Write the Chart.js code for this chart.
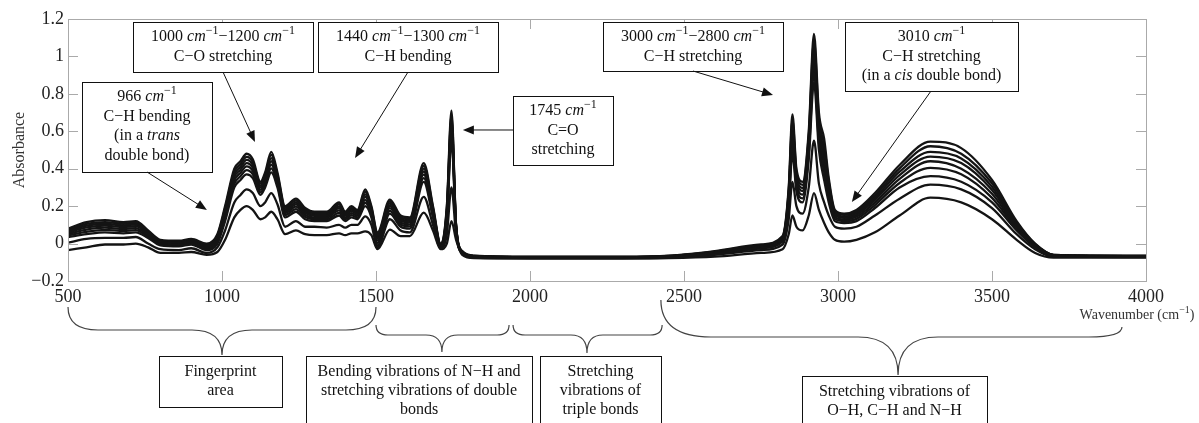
<!DOCTYPE html>
<html>
<head>
<meta charset="utf-8">
<script src="https://cdn.jsdelivr.net/npm/chart.js@4"></script>
<style>
  html, body { margin: 0; padding: 0; background: #fff; }
  canvas { display: block; }
</style>
</head>
<body>
<canvas id="spectra" width="1199" height="423"></canvas>
<script>
// Wavenumber grid (cm-1) shared by all spectra
const wavenumbers = [500, 560, 620, 680, 720, 760, 800, 860, 900, 950, 985, 1010, 1040, 1060, 1080, 1100, 1125, 1140, 1160, 1180,
  1205, 1240, 1270, 1300, 1340, 1380, 1400, 1420, 1440, 1465, 1485, 1505, 1545, 1580, 1610, 1655, 1685, 1710, 1730, 1745,
  1760, 1780, 1820, 2000, 2300, 2450, 2600, 2750, 2820, 2840, 2852, 2865, 2885, 2905, 2922, 2938, 2955, 2970, 2990, 3020,
  3060, 3120, 3200, 3300, 3400, 3500, 3580, 3640, 3700, 4000];

// Absorbance of each sample, lowest first
const spectrum1 = [-0.035, -0.02, -0.005, -0.005, 0, -0.02, -0.05, -0.05, -0.045, -0.06, -0.045, 0.02, 0.14, 0.18, 0.2, 0.18, 0.13, 0.14, 0.17, 0.13,
  0.05, 0.07, 0.05, 0.045, 0.045, 0.055, 0.045, 0.055, 0.055, 0.065, 0.045, -0.03, 0.075, 0.04, 0.04, 0.165, 0.07, -0.03, 0, 0.12,
  0.02, -0.06, -0.078, -0.08, -0.08, -0.078, -0.07, -0.05, -0.03, 0.05, 0.15, 0.09, 0.07, 0.15, 0.27, 0.18, 0.11, 0.06, 0.02, 0.01,
  0.02, 0.06, 0.15, 0.245, 0.22, 0.13, 0.02, -0.05, -0.075, -0.075];
const spectrum2 = [0.005, 0.025, 0.03, 0.03, 0.035, 0, -0.03, -0.035, -0.025, -0.05, -0.02, 0.07, 0.22, 0.26, 0.29, 0.27, 0.2, 0.22, 0.27, 0.21,
  0.09, 0.12, 0.09, 0.09, 0.085, 0.1, 0.085, 0.1, 0.1, 0.145, 0.1, -0.02, 0.13, 0.07, 0.06, 0.25, 0.1, -0.025, 0.05, 0.3,
  0.05, -0.055, -0.075, -0.078, -0.078, -0.075, -0.06, -0.035, -0.005, 0.13, 0.33, 0.2, 0.16, 0.3, 0.55, 0.32, 0.22, 0.15, 0.09, 0.08,
  0.09, 0.15, 0.24, 0.315, 0.29, 0.19, 0.05, -0.03, -0.07, -0.072];
const spectrum3 = [0.035, 0.05, 0.06, 0.055, 0.06, 0.03, -0.01, -0.015, -0.005, -0.035, 0, 0.12, 0.3, 0.34, 0.37, 0.35, 0.26, 0.3, 0.38, 0.3,
  0.14, 0.17, 0.13, 0.12, 0.12, 0.15, 0.12, 0.14, 0.13, 0.2, 0.14, -0.01, 0.16, 0.09, 0.08, 0.33, 0.14, -0.02, 0.12, 0.55,
  0.08, -0.05, -0.07, -0.075, -0.075, -0.07, -0.055, -0.025, 0.01, 0.2, 0.48, 0.28, 0.22, 0.45, 0.86, 0.5, 0.34, 0.22, 0.12, 0.11,
  0.12, 0.19, 0.3, 0.36, 0.33, 0.22, 0.07, -0.02, -0.065, -0.07];
const spectrum4 = [0.044, 0.063, 0.073, 0.067, 0.072, 0.038, -0.004, -0.009, 0.001, -0.028, 0.01, 0.136, 0.32, 0.36, 0.392, 0.37, 0.274, 0.316, 0.402, 0.316,
  0.152, 0.184, 0.142, 0.13, 0.13, 0.164, 0.13, 0.152, 0.14, 0.218, 0.152, 0.004, 0.175, 0.102, 0.092, 0.35, 0.152, -0.016, 0.136, 0.582,
  0.084, -0.048, -0.069, -0.074, -0.074, -0.069, -0.052, -0.021, 0.016, 0.22, 0.522, 0.304, 0.242, 0.48, 0.912, 0.54, 0.384, 0.246, 0.132, 0.12,
  0.132, 0.206, 0.324, 0.405, 0.37, 0.244, 0.08, -0.016, -0.064, -0.069];
const spectrum5 = [0.052, 0.075, 0.085, 0.078, 0.083, 0.045, 0.001, -0.004, 0.006, -0.022, 0.019, 0.15, 0.338, 0.378, 0.412, 0.388, 0.287, 0.33, 0.422, 0.33,
  0.163, 0.197, 0.153, 0.139, 0.139, 0.177, 0.139, 0.163, 0.149, 0.234, 0.163, 0.017, 0.189, 0.113, 0.103, 0.368, 0.163, -0.012, 0.15, 0.611,
  0.088, -0.046, -0.068, -0.073, -0.073, -0.068, -0.049, -0.017, 0.021, 0.238, 0.56, 0.326, 0.262, 0.507, 0.959, 0.576, 0.424, 0.269, 0.143, 0.129,
  0.143, 0.22, 0.346, 0.44, 0.4, 0.266, 0.089, -0.012, -0.063, -0.068];
const spectrum6 = [0.06, 0.086, 0.096, 0.088, 0.093, 0.052, 0.007, 0.002, 0.012, -0.016, 0.028, 0.164, 0.355, 0.395, 0.43, 0.405, 0.299, 0.344, 0.44, 0.344,
  0.173, 0.209, 0.163, 0.148, 0.148, 0.189, 0.148, 0.173, 0.158, 0.25, 0.173, 0.029, 0.201, 0.123, 0.113, 0.385, 0.173, -0.009, 0.164, 0.638,
  0.091, -0.045, -0.067, -0.072, -0.072, -0.067, -0.047, -0.014, 0.027, 0.255, 0.596, 0.346, 0.281, 0.533, 1.003, 0.61, 0.461, 0.292, 0.153, 0.138,
  0.153, 0.234, 0.366, 0.465, 0.43, 0.286, 0.098, -0.009, -0.062, -0.067];
const spectrum7 = [0.067, 0.096, 0.106, 0.097, 0.102, 0.058, 0.011, 0.006, 0.016, -0.011, 0.035, 0.176, 0.37, 0.41, 0.447, 0.42, 0.309, 0.356, 0.457, 0.356,
  0.182, 0.219, 0.172, 0.155, 0.155, 0.199, 0.155, 0.182, 0.165, 0.263, 0.182, 0.039, 0.213, 0.132, 0.122, 0.4, 0.182, -0.006, 0.176, 0.662,
  0.094, -0.043, -0.067, -0.072, -0.072, -0.067, -0.045, -0.011, 0.031, 0.27, 0.627, 0.364, 0.297, 0.555, 1.042, 0.64, 0.494, 0.311, 0.162, 0.145,
  0.162, 0.246, 0.384, 0.49, 0.455, 0.304, 0.105, -0.006, -0.062, -0.067];
const spectrum8 = [0.073, 0.105, 0.115, 0.106, 0.111, 0.064, 0.016, 0.011, 0.021, -0.005, 0.043, 0.188, 0.385, 0.425, 0.463, 0.435, 0.32, 0.368, 0.474, 0.368,
  0.191, 0.23, 0.181, 0.163, 0.163, 0.21, 0.163, 0.191, 0.173, 0.277, 0.191, 0.05, 0.224, 0.141, 0.131, 0.415, 0.191, -0.003, 0.188, 0.686,
  0.097, -0.042, -0.066, -0.071, -0.071, -0.066, -0.043, -0.008, 0.036, 0.285, 0.659, 0.382, 0.314, 0.578, 1.081, 0.67, 0.527, 0.331, 0.171, 0.153,
  0.171, 0.258, 0.402, 0.52, 0.48, 0.322, 0.113, -0.003, -0.061, -0.066];
const spectrum9 = [0.08, 0.115, 0.125, 0.115, 0.12, 0.07, 0.02, 0.015, 0.025, 0, 0.05, 0.2, 0.4, 0.44, 0.48, 0.45, 0.33, 0.38, 0.49, 0.38,
  0.2, 0.24, 0.19, 0.17, 0.17, 0.22, 0.17, 0.2, 0.18, 0.29, 0.2, 0.06, 0.235, 0.15, 0.14, 0.43, 0.2, 0, 0.2, 0.71,
  0.1, -0.04, -0.065, -0.07, -0.07, -0.065, -0.04, -0.005, 0.04, 0.3, 0.69, 0.4, 0.33, 0.6, 1.12, 0.7, 0.56, 0.35, 0.18, 0.16,
  0.18, 0.27, 0.42, 0.545, 0.51, 0.34, 0.12, 0, -0.06, -0.065];

const spectra = [spectrum1, spectrum2, spectrum3, spectrum4, spectrum5, spectrum6, spectrum7, spectrum8, spectrum9];

// Axis ticks
const xTicks = [500, 1000, 1500, 2000, 2500, 3000, 3500, 4000];
const yTicks = [-0.2, 0, 0.2, 0.4, 0.6, 0.8, 1, 1.2];

const SERIF = '"Liberation Serif", "Times New Roman", serif';

// Peak callouts: box in canvas px, arrow tail in px, arrow tip in data units
const callouts = [
  { lines: ['966 _cm_^−1^', 'C−H bending', '(in a _trans_', 'double bond)'], box: [82, 82, 212, 172], from: [147, 172], tip: [951, 0.18] },
  { lines: ['1000 _cm_^−1^−1200 _cm_^−1^', 'C−O stretching'], box: [133, 22, 313, 72], from: [223, 72], tip: [1107, 0.543] },
  { lines: ['1440 _cm_^−1^−1300 _cm_^−1^', 'C−H bending'], box: [318, 22, 498, 72], from: [408, 72], tip: [1432, 0.457] },
  { lines: ['1745 _cm_^−1^', 'C=O', 'stretching'], box: [513, 96, 613, 165], from: [513, 130], tip: [1782, 0.607] },
  { lines: ['3000 _cm_^−1^−2800 _cm_^−1^', 'C−H stretching'], box: [603, 22, 783, 71], from: [693, 71], tip: [2789, 0.794] },
  { lines: ['3010 _cm_^−1^', 'C−H stretching', '(in a _cis_ double bond)'], box: [845, 22, 1018, 91], from: [931, 91], tip: [3045, 0.222] }
];

// Spectral regions under the axis: wavenumber span, cusp, brace levels in px
const regions = [
  { lines: ['Fingerprint', 'area'], from: 500, to: 1500, cusp: 1000, top: 307, topR: 307, mid: 330, bot: 355, r1: 30, r2: 30, box: [159, 356, 282, 407] },
  { lines: ['Bending vibrations of N−H and', 'stretching vibrations of double', 'bonds'], from: 1500, to: 1932, cusp: 1714, top: 325, topR: 325, mid: 335, bot: 352, r1: 12, r2: 16, box: [306, 356, 532, 440] },
  { lines: ['Stretching', 'vibrations of', 'triple bonds'], from: 1945, to: 2429, cusp: 2185, top: 325, topR: 325, mid: 335, bot: 353, r1: 12, r2: 16, box: [540, 356, 661, 440] },
  { lines: ['Stretching vibrations of', 'O−H, C−H and N−H'], from: 2425, to: 3922, cusp: 3195, top: 300, topR: 327, mid: 337, bot: 375, r1: 50, r2: 40, box: [802, 376, 987, 440] }
];

function richSegments(str, size) {
  return str.split(/(_[^_]+_|\^[^^]+\^)/).filter(Boolean).map(p => {
    if (p[0] === '_') return { t: p.slice(1, -1), font: `italic ${size}px ${SERIF}`, dy: 0 };
    if (p[0] === '^') return { t: p.slice(1, -1), font: `${Math.round(size * 0.72)}px ${SERIF}`, dy: -size * 0.36 };
    return { t: p, font: `${size}px ${SERIF}`, dy: 0 };
  });
}

function drawRich(ctx, str, x, y, size, align) {
  const segs = richSegments(str, size);
  let w = 0;
  segs.forEach(s => { ctx.font = s.font; s.w = ctx.measureText(s.t).width; w += s.w; });
  let cx = align === 'left' ? x : x - w / 2;
  ctx.textAlign = 'left';
  ctx.textBaseline = 'middle';
  segs.forEach(s => { ctx.font = s.font; ctx.fillText(s.t, cx, y + s.dy); cx += s.w; });
}

function drawBox(ctx, box, lines, first, step) {
  const [x0, y0, x1, y1] = box;
  ctx.fillStyle = '#fff';
  ctx.fillRect(x0, y0, x1 - x0, y1 - y0);
  ctx.strokeStyle = '#111';
  ctx.lineWidth = 1;
  ctx.strokeRect(x0 + 0.5, y0 + 0.5, x1 - x0, y1 - y0);
  ctx.fillStyle = '#111';
  lines.forEach((l, i) => drawRich(ctx, l, (x0 + x1) / 2, y0 + first + i * step, 16));
}

function drawArrow(ctx, x0, y0, x1, y1) {
  const a = Math.atan2(y1 - y0, x1 - x0);
  const len = 11, half = 4.5;
  ctx.strokeStyle = '#111';
  ctx.lineWidth = 1;
  ctx.beginPath();
  ctx.moveTo(x0, y0);
  ctx.lineTo(x1 - Math.cos(a) * len * 0.8, y1 - Math.sin(a) * len * 0.8);
  ctx.stroke();
  ctx.fillStyle = '#111';
  ctx.beginPath();
  ctx.moveTo(x1, y1);
  ctx.lineTo(x1 - Math.cos(a) * len - Math.sin(a) * half, y1 - Math.sin(a) * len + Math.cos(a) * half);
  ctx.lineTo(x1 - Math.cos(a) * len + Math.sin(a) * half, y1 - Math.sin(a) * len - Math.cos(a) * half);
  ctx.closePath();
  ctx.fill();
}

function drawBrace(ctx, xa, xc, xb, g) {
  ctx.beginPath();
  ctx.moveTo(xa, g.top);
  ctx.quadraticCurveTo(xa, g.mid, xa + g.r1, g.mid);
  ctx.lineTo(xc - g.r2, g.mid);
  ctx.quadraticCurveTo(xc, g.mid, xc, g.bot);
  ctx.quadraticCurveTo(xc, g.mid, xc + g.r2, g.mid);
  const rR = Math.min(g.r1, (g.mid - g.topR) * 2.5 + 8);
  ctx.lineTo(xb - rR, g.mid);
  ctx.quadraticCurveTo(xb, g.mid, xb, g.topR);
  ctx.stroke();
}

const decorations = {
  id: 'decorations',
  afterDatasetsDraw(chart) {
    const { ctx, chartArea: a, scales: { x, y } } = chart;
    ctx.save();

    // frame and inward ticks
    ctx.strokeStyle = '#aaa';
    ctx.lineWidth = 1;
    ctx.strokeRect(a.left + 0.5, a.top + 0.5, a.right - a.left, a.bottom - a.top);
    ctx.beginPath();
    xTicks.forEach(v => {
      const px = Math.round(x.getPixelForValue(v)) + 0.5;
      ctx.moveTo(px, a.bottom); ctx.lineTo(px, a.bottom - 10);
      ctx.moveTo(px, a.top); ctx.lineTo(px, a.top + 10);
    });
    yTicks.forEach(v => {
      const py = Math.round(y.getPixelForValue(v)) + 0.5;
      ctx.moveTo(a.left, py); ctx.lineTo(a.left + 10, py);
      ctx.moveTo(a.right, py); ctx.lineTo(a.right - 10, py);
    });
    ctx.stroke();

    // axis titles
    ctx.fillStyle = '#333';
    ctx.save();
    ctx.translate(20, 150);
    ctx.rotate(-Math.PI / 2);
    ctx.font = `16px ${SERIF}`;
    ctx.textAlign = 'center';
    ctx.textBaseline = 'middle';
    ctx.fillText('Absorbance', 0, 0);
    ctx.restore();
    drawRich(ctx, 'Wavenumber (cm^−1^)', 1137, 315, 14);

    // callouts
    callouts.forEach(c => {
      drawBox(ctx, c.box, c.lines, 15, 19.5);
      drawArrow(ctx, c.from[0], c.from[1], x.getPixelForValue(c.tip[0]), y.getPixelForValue(c.tip[1]));
    });

    // region braces and labels
    regions.forEach(r => {
      ctx.strokeStyle = '#444';
      ctx.lineWidth = 1.2;
      drawBrace(ctx, x.getPixelForValue(r.from), x.getPixelForValue(r.cusp), x.getPixelForValue(r.to), r);
      drawBox(ctx, r.box, r.lines, 16, 19);
    });

    ctx.restore();
  }
};

const fmt = v => String(Math.round(v * 10) / 10).replace('-', '−');

new Chart(document.getElementById('spectra'), {
  type: 'line',
  data: {
    datasets: spectra.map(s => ({
      data: wavenumbers.map((w, i) => ({ x: w, y: s[i] })),
      borderColor: '#141414',
      borderWidth: 2.3,
      pointRadius: 0,
      cubicInterpolationMode: 'monotone',
      fill: false
    }))
  },
  options: {
    responsive: false,
    animation: false,
    devicePixelRatio: 1,
    layout: { padding: { top: 19, right: 53, left: 0, bottom: 0 } },
    plugins: { legend: { display: false }, tooltip: { enabled: false } },
    scales: {
      x: {
        type: 'linear',
        min: 500,
        max: 4000,
        afterBuildTicks: s => { s.ticks = xTicks.map(v => ({ value: v })); },
        afterFit: s => { s.height = 142; },
        grid: { display: false, drawTicks: false },
        border: { display: false },
        ticks: { color: '#222', padding: 5, maxRotation: 0, font: { family: SERIF, size: 18 }, callback: v => fmt(v) }
      },
      y: {
        min: -0.2,
        max: 1.2,
        afterBuildTicks: s => { s.ticks = yTicks.map(v => ({ value: v })); },
        afterFit: s => { s.width = 68; },
        grid: { display: false, drawTicks: false },
        border: { display: false },
        ticks: { color: '#222', padding: 4, font: { family: SERIF, size: 18 }, callback: v => fmt(v) }
      }
    }
  },
  plugins: [decorations]
});
</script>
</body>
</html>
